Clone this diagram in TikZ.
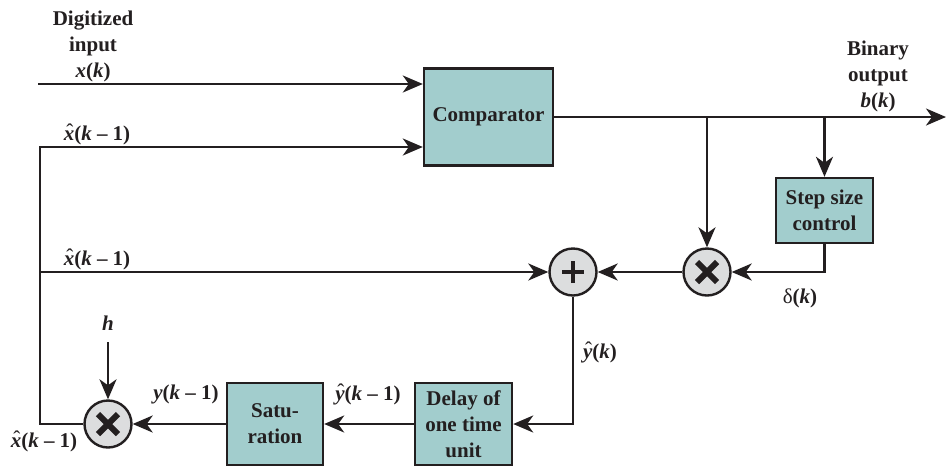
\documentclass[tikz,border=0pt]{standalone}
\usepackage{fontspec}
\setmainfont{Liberation Serif}
\usetikzlibrary{arrows.meta}
\definecolor{boxfill}{RGB}{162,205,205}
\definecolor{circfill}{RGB}{220,221,222}
\definecolor{ink}{RGB}{35,31,32}
\newcommand{\hatit}[1]{\ooalign{\textit{#1}\cr\hidewidth\kern0.08em\raisebox{0.06em}{\mdseries\char"02C6}\hidewidth\cr}}
\newcommand{\hx}{\hatit{x}}
\newcommand{\hy}{\hatit{y}}
\newcommand{\ik}{\textit{k}}
\begin{document}
\begin{tikzpicture}[x=1pt,y=-1pt,
  font=\fontsize{21}{26}\selectfont\bfseries,
  blk/.style={draw=ink, fill=boxfill, line width=2.4pt, inner sep=0pt, align=center, text=ink},
  circ/.style={circle, draw=ink, fill=circfill, line width=2.4pt, minimum size=47pt, inner sep=0pt},
  conn/.style={draw=ink, line width=2.4pt},
  arr/.style={conn, -{Stealth[length=20pt,width=17pt,inset=6pt]}},
  lbl/.style={text=ink, anchor=base, inner sep=0pt},
  plusbar/.style={draw=ink, line width=3.8pt},
  crossbar/.style={draw=ink, line width=6pt}
]
\useasboundingbox (0,0) rectangle (948,467);

% blocks
\node[blk, minimum width=129pt, minimum height=97pt] (comp) at (488.5,117) {Comparator};
\node[blk, minimum width=97pt, minimum height=65pt] (step) at (824.5,210.5) {Step size\\control};
\node[blk, minimum width=97pt, minimum height=82pt] (delay) at (463.5,424) {Delay of\\one time\\unit};
\node[blk, minimum width=96pt, minimum height=82pt] (sat) at (275,424) {Satu-\\ration};

% circles
\node[circ] (plus) at (573,272) {};
\node[circ] (mult) at (707,272) {};
\node[circ] (mb) at (108,424) {};
\draw[plusbar] ([xshift=-11pt]plus.center) -- ([xshift=11pt]plus.center);
\draw[plusbar] ([yshift=-11pt]plus.center) -- ([yshift=11pt]plus.center);
\foreach \m in {mult,mb}{
  \draw[crossbar] ([shift={(-10pt,-10pt)}]\m.center) -- ([shift={(10pt,10pt)}]\m.center);
  \draw[crossbar] ([shift={(-10pt,10pt)}]\m.center) -- ([shift={(10pt,-10pt)}]\m.center);
}

% coordinates
\coordinate (in) at (38,84);
\coordinate (fbL) at (40,147);
\coordinate (fbM) at (40,272);
\coordinate (out) at (946,117);
\coordinate (br1) at (707,117);
\coordinate (br2) at (824.5,117);
\coordinate (h) at (108,342);

% connectors
\draw[arr] (in) -- (in -| comp.west);
\draw[arr] (mb.west) -| (fbL) -- (fbL -| comp.west);
\draw[arr] (fbM) -- (plus.west);
\draw[arr] (comp.east) -- (out);
\draw[arr] (br1) -- (mult.north);
\draw[arr] (br2) -- (step.north);
\draw[arr] (step.south) |- (mult.east);
\draw[arr] (mult.west) -- (plus.east);
\draw[arr] (plus.south) |- (delay.east);
\draw[arr] (delay.west) -- (sat.east);
\draw[arr] (sat.west) -- (mb.east);
\draw[arr] (h) -- (mb.north);

% labels
\node[lbl] (lin1) at (93,25) {Digitized};
\node[lbl] (lin2) at (93,51) {input};
\node[lbl] (lin3) at (93,77) {\textit{x}(\ik)};
\node[lbl] (lxa) at (97,140) {\hx(\ik\ – 1)};
\node[lbl] (lxb) at (97,265) {\hx(\ik\ – 1)};
\node[lbl] (lout1) at (878,55) {Binary};
\node[lbl] (lout2) at (878,81) {output};
\node[lbl] (lout3) at (878,107) {\textit{b}(\ik)};
\node[lbl] (ld) at (800,303) {\mdseries δ\bfseries(\ik)};
\node[lbl] (lyk) at (600,358) {\hy(\ik)};
\node[lbl] (lyk1) at (368,400) {\hy(\ik\ – 1)};
\node[lbl] (lyy) at (186,399) {\textit{y}(\ik\ – 1)};
\node[lbl] (lh) at (108,330) {\textit{h}};
\node[lbl] (lxc) at (44,447) {\hx(\ik\ – 1)};
\end{tikzpicture}
\end{document}
